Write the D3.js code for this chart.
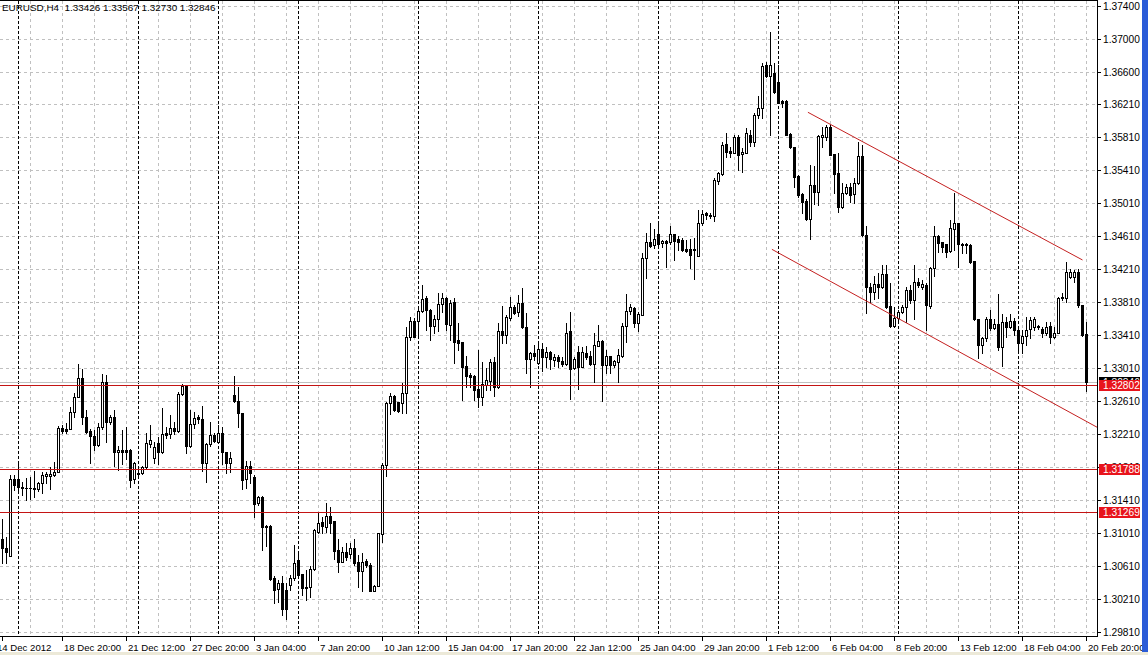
<!DOCTYPE html>
<html>
<head>
<meta charset="utf-8">
<script src="https://cdn.jsdelivr.net/npm/d3@7"></script>
<style>
  html, body { margin: 0; padding: 0; background: #fff; }
  svg { display: block; }
  text { font-family: "Liberation Sans", Arial, sans-serif; }
</style>
</head>
<body>
<svg id="chart" width="1148" height="655"></svg>
<script>
// EURUSD H4, 14 Dec 2012 - 20 Feb 2013 (272 bars)
const opens = [
  1.30937,1.30828,1.30739,1.31663,1.31663,1.31566,1.31554,1.31561,1.31554,1.31542,
  1.31614,1.31703,1.31703,1.31715,1.31748,1.32281,1.32269,1.32269,1.32475,1.32664,
  1.32887,1.32422,1.32248,1.32191,1.32079,1.32293,1.32846,1.32361,1.32422,1.31989,
  1.32017,1.32017,1.32017,1.31663,1.31743,1.31736,1.31809,1.32091,1.31917,1.32099,
  1.31998,1.32220,1.32208,1.32281,1.32252,1.32697,1.32793,1.32067,1.32334,1.32415,
  1.32391,1.31857,1.32091,1.32200,1.32119,1.32228,1.31989,1.31864,1.32684,1.32616,
  1.32463,1.31663,1.31824,1.31695,1.31373,1.31446,1.31098,1.31098,1.30467,1.30334,
  1.30406,1.30317,1.30383,1.30464,1.30685,1.30516,1.30355,1.30355,1.30576,1.31030,
  1.31151,1.31091,1.31219,1.31163,1.30807,1.30666,1.30787,1.30759,1.30828,1.30666,
  1.30557,1.30678,1.30625,1.30314,1.30367,1.31002,1.31836,1.32584,1.32672,1.32603,
  1.32591,1.32705,1.33383,1.33584,1.33584,1.33706,1.33855,1.33714,1.33520,1.33601,
  1.33787,1.33855,1.33532,1.33815,1.33351,1.33330,1.33035,1.32927,1.32914,1.32753,
  1.32664,1.32805,1.32857,1.33088,1.32777,1.33459,1.33411,1.33613,1.33754,1.33694,
  1.33802,1.33512,1.33117,1.33197,1.33072,1.33241,1.33140,1.33209,1.33108,1.33140,
  1.33100,1.33060,1.33463,1.33008,1.33209,1.33027,1.33197,1.33156,1.33060,1.33278,
  1.33339,1.33047,1.33156,1.33047,1.33088,1.33156,1.33520,1.33706,1.33734,1.33561,
  1.33653,1.34340,1.34541,1.34501,1.34630,1.34529,1.34553,1.34541,1.34630,1.34570,
  1.34562,1.34457,1.34457,1.34457,1.34364,1.34767,1.34888,1.34868,1.34848,1.35281,
  1.35361,1.35725,1.35640,1.35620,1.35814,1.35600,1.35620,1.35834,1.35753,1.36076,
  1.36157,1.36682,1.36549,1.36589,1.36479,1.36250,1.36250,1.35846,1.35693,1.35338,
  1.35120,1.35038,1.34812,1.35228,1.35147,1.35806,1.35806,1.35934,1.35604,1.35370,
  1.34965,1.35127,1.35200,1.35119,1.35249,1.35580,1.34622,1.33988,1.33935,1.34028,
  1.33988,1.34149,1.33762,1.33520,1.33613,1.33694,1.33747,1.33956,1.33835,1.34056,
  1.33996,1.34016,1.33762,1.34222,1.34610,1.34541,1.34513,1.34432,1.34691,1.34771,
  1.34517,1.34517,1.34497,1.34307,1.33601,1.33290,1.33371,1.33601,1.33492,1.33544,
  1.33262,1.33573,1.33512,1.33581,1.33472,1.33318,1.33399,1.33480,1.33512,1.33520,
  1.33480,1.33439,1.33520,1.33391,1.33439,1.33855,1.33855,1.34117,1.34117,1.34178,
  1.33775,1.33426
];
const highs = [
  1.31179,1.30969,1.31716,1.31715,1.31864,1.31634,1.31675,1.31691,1.31764,1.31634,
  1.31755,1.31755,1.31816,1.31876,1.32309,1.32321,1.32342,1.32543,1.32712,1.33056,
  1.32996,1.32503,1.32276,1.32260,1.32342,1.32939,1.32927,1.32442,1.32503,1.32067,
  1.32260,1.32301,1.32030,1.31876,1.31776,1.31824,1.32220,1.32321,1.32119,1.32180,
  1.32523,1.32301,1.32442,1.32361,1.32725,1.32818,1.32806,1.32503,1.32483,1.32442,
  1.32552,1.32099,1.32361,1.32220,1.32321,1.32301,1.31997,1.31989,1.32914,1.32785,
  1.32467,1.31888,1.31888,1.31715,1.31462,1.31462,1.31110,1.31110,1.30486,1.30446,
  1.30486,1.30406,1.30504,1.30868,1.30782,1.30516,1.30565,1.30616,1.31058,1.31252,
  1.31211,1.31373,1.31332,1.31163,1.30937,1.30847,1.30888,1.30888,1.30937,1.30746,
  1.30767,1.30694,1.30645,1.30387,1.31018,1.31857,1.32603,1.32705,1.32684,1.32603,
  1.32826,1.33512,1.33633,1.33613,1.33754,1.34016,1.33883,1.33722,1.33653,1.33916,
  1.33923,1.33875,1.33835,1.33855,1.33553,1.33330,1.33156,1.32947,1.32927,1.33229,
  1.33088,1.33007,1.33117,1.33148,1.33553,1.33762,1.33653,1.33875,1.33775,1.33895,
  1.33976,1.33681,1.33209,1.33290,1.33302,1.33310,1.33262,1.33221,1.33180,1.33168,
  1.33148,1.33553,1.33694,1.33148,1.33278,1.33262,1.33278,1.33221,1.33431,1.33532,
  1.33351,1.33229,1.33156,1.33108,1.33241,1.33553,1.33907,1.33787,1.33747,1.33694,
  1.34401,1.34650,1.34771,1.34691,1.34755,1.34562,1.34562,1.34731,1.34630,1.34610,
  1.34582,1.34562,1.34570,1.34582,1.34929,1.34929,1.34900,1.34888,1.35309,1.35390,
  1.35753,1.35854,1.35692,1.35834,1.35834,1.35672,1.35915,1.35895,1.36097,1.36306,
  1.36710,1.36722,1.37085,1.36702,1.36682,1.36258,1.36258,1.35854,1.35693,1.35350,
  1.35128,1.35054,1.35470,1.35458,1.35834,1.35934,1.35955,1.35955,1.35604,1.35612,
  1.35249,1.35241,1.35249,1.35309,1.35753,1.35713,1.34731,1.34043,1.34125,1.34157,
  1.34258,1.34258,1.34036,1.33754,1.33714,1.33775,1.33996,1.34016,1.34258,1.34097,
  1.34077,1.34036,1.34230,1.34731,1.34622,1.34541,1.34513,1.34804,1.35127,1.34771,
  1.34529,1.34529,1.34513,1.34307,1.33601,1.33391,1.33633,1.33714,1.33601,1.33907,
  1.33665,1.33633,1.33665,1.33617,1.33480,1.33472,1.33633,1.33633,1.33633,1.33532,
  1.33512,1.33573,1.33573,1.33512,1.33875,1.33916,1.34299,1.34207,1.34198,1.34207,
  1.33775,1.33567
];
const lows = [
  1.30653,1.30645,1.30739,1.31534,1.31501,1.31473,1.31413,1.31425,1.31453,1.31526,
  1.31501,1.31614,1.31542,1.31700,1.31748,1.32220,1.32220,1.32269,1.32422,1.32664,
  1.32334,1.32228,1.31864,1.32018,1.32067,1.32269,1.32119,1.32334,1.31824,1.31776,
  1.31848,1.31905,1.31566,1.31614,1.31703,1.31727,1.31796,1.32058,1.31864,1.31848,
  1.31985,1.32160,1.32160,1.32212,1.32240,1.32684,1.31985,1.32058,1.32281,1.32349,
  1.31767,1.31634,1.32067,1.32119,1.32107,1.31848,1.31739,1.31755,1.32596,1.32301,
  1.31542,1.31554,1.31614,1.31211,1.31352,1.30807,1.30856,1.30446,1.30168,1.30180,
  1.30019,1.29967,1.30325,1.30446,1.30464,1.30262,1.30201,1.30242,1.30568,1.31018,
  1.31010,1.31030,1.31018,1.30695,1.30544,1.30666,1.30685,1.30705,1.30625,1.30354,
  1.30306,1.30605,1.30306,1.30306,1.30367,1.30908,1.31703,1.32455,1.32495,1.32483,
  1.32463,1.32463,1.33351,1.33383,1.33411,1.33694,1.33476,1.33351,1.33435,1.33464,
  1.33694,1.33476,1.33355,1.33077,1.33229,1.32624,1.32785,1.32785,1.32624,1.32543,
  1.32564,1.32745,1.32745,1.32672,1.32765,1.33318,1.33318,1.33593,1.33665,1.33641,
  1.33492,1.32947,1.32785,1.33108,1.33063,1.32980,1.33027,1.32996,1.33035,1.33027,
  1.33035,1.33047,1.32632,1.32996,1.32753,1.33020,1.33117,1.33047,1.32836,1.33278,
  1.32616,1.32947,1.32947,1.33027,1.32836,1.33148,1.33330,1.33665,1.33512,1.33464,
  1.33653,1.34098,1.34481,1.34465,1.34465,1.34477,1.34235,1.34517,1.34320,1.34440,
  1.34432,1.34416,1.34227,1.34086,1.34364,1.34747,1.34820,1.34828,1.34788,1.35239,
  1.35349,1.35571,1.35571,1.35612,1.35410,1.35390,1.35612,1.35701,1.35701,1.36036,
  1.36036,1.36540,1.35834,1.36346,1.36218,1.36170,1.35834,1.35673,1.35209,1.35088,
  1.34893,1.34804,1.34570,1.35000,1.34987,1.35693,1.35773,1.35592,1.35127,1.34905,
  1.34945,1.35119,1.35026,1.35013,1.35241,1.34610,1.33681,1.33814,1.33843,1.33855,
  1.33976,1.33734,1.33512,1.33512,1.33593,1.33674,1.33573,1.33795,1.33601,1.33996,
  1.33964,1.33472,1.33734,1.34125,1.34416,1.34420,1.34352,1.34420,1.34440,1.34239,
  1.34400,1.34400,1.34283,1.33593,1.33128,1.33189,1.33343,1.33472,1.33480,1.33229,
  1.33035,1.33391,1.33492,1.33411,1.33209,1.33197,1.33290,1.33371,1.33472,1.33480,
  1.33391,1.33411,1.33310,1.33371,1.33431,1.33835,1.33815,1.34097,1.34056,1.33754,
  1.33399,1.32730
];
const closes = [
  1.30828,1.30787,1.31663,1.31594,1.31566,1.31554,1.31561,1.31554,1.31542,1.31622,
  1.31715,1.31727,1.31727,1.31755,1.32281,1.32252,1.32248,1.32475,1.32664,1.32887,
  1.32422,1.32240,1.32191,1.32079,1.32293,1.32846,1.32361,1.32422,1.31989,1.32017,
  1.31997,1.31997,1.31655,1.31857,1.31724,1.31816,1.32099,1.32139,1.32051,1.31998,
  1.32212,1.32200,1.32281,1.32252,1.32697,1.32793,1.32067,1.32334,1.32403,1.32391,
  1.31857,1.32091,1.32200,1.32131,1.32228,1.31989,1.31864,1.31917,1.32616,1.32463,
  1.31655,1.31824,1.31743,1.31365,1.31446,1.31082,1.31082,1.30455,1.30325,1.30406,
  1.30088,1.30088,1.30464,1.30653,1.30504,1.30343,1.30343,1.30576,1.31050,1.31139,
  1.31099,1.31219,1.31139,1.30799,1.30666,1.30787,1.30726,1.30828,1.30645,1.30557,
  1.30666,1.30625,1.30314,1.30375,1.31010,1.31836,1.32591,1.32672,1.32503,1.32495,
  1.32705,1.33383,1.33584,1.33391,1.33706,1.33843,1.33714,1.33520,1.33601,1.33787,
  1.33855,1.33544,1.33802,1.33330,1.33318,1.33027,1.32914,1.32906,1.32745,1.32664,
  1.32817,1.32866,1.33088,1.32785,1.33459,1.33411,1.33625,1.33754,1.33681,1.33802,
  1.33504,1.33117,1.33197,1.33156,1.33241,1.33140,1.33209,1.33117,1.33140,1.33100,
  1.33060,1.33431,1.32996,1.33117,1.33020,1.33209,1.33148,1.33060,1.33290,1.33339,
  1.33047,1.33156,1.33047,1.33096,1.33168,1.33520,1.33706,1.33747,1.33553,1.33665,
  1.34340,1.34541,1.34489,1.34570,1.34517,1.34553,1.34529,1.34630,1.34553,1.34541,
  1.34440,1.34428,1.34376,1.34445,1.34767,1.34876,1.34860,1.34848,1.35289,1.35370,
  1.35713,1.35632,1.35620,1.35814,1.35592,1.35632,1.35862,1.35753,1.36076,1.36157,
  1.36670,1.36549,1.36682,1.36358,1.36225,1.36225,1.35834,1.35685,1.35330,1.35108,
  1.35026,1.34812,1.35228,1.35147,1.35822,1.35834,1.35934,1.35592,1.35361,1.34965,
  1.35127,1.35200,1.35107,1.35249,1.35580,1.34622,1.33988,1.33935,1.34028,1.33988,
  1.34149,1.33754,1.33520,1.33613,1.33694,1.33754,1.33956,1.33835,1.34056,1.34016,
  1.34028,1.33775,1.34222,1.34610,1.34529,1.34481,1.34420,1.34703,1.34771,1.34517,
  1.34497,1.34497,1.34295,1.33601,1.33290,1.33371,1.33601,1.33492,1.33544,1.33262,
  1.33573,1.33512,1.33585,1.33472,1.33318,1.33399,1.33472,1.33593,1.33601,1.33504,
  1.33439,1.33512,1.33391,1.33439,1.33855,1.33875,1.34178,1.34178,1.34178,1.33775,
  1.33411,1.32846
];

// price axis ticks (as MT4 prints them)
const priceTicks = [1.37400,1.37000,1.36600,1.36210,1.35810,1.35410,1.35010,1.34610,1.34210,1.33810,
                    1.33410,1.33010,1.32610,1.32210,1.31810,1.31410,1.31010,1.30610,1.30210,1.29810];
// time axis labels: bar index + text
const labelBars = [0,15,31,47,63,79,95,111,127,143,159,175,191,207,223,239,255,271];
const labelTexts = ["14 Dec 2012","18 Dec 20:00","21 Dec 12:00","27 Dec 20:00","3 Jan 04:00","7 Jan 20:00",
                    "10 Jan 12:00","15 Jan 04:00","17 Jan 20:00","22 Jan 12:00","25 Jan 04:00","29 Jan 20:00",
                    "1 Feb 12:00","6 Feb 04:00","8 Feb 20:00","13 Feb 12:00","18 Feb 04:00","20 Feb 20:00"];
// week separators (Monday 00:00 bars)
const separatorBars = [4,34,54,74,104,134,164,194,224,254];
// horizontal levels and bid
const levels = [1.32802, 1.31788, 1.31269];
const bid = 1.32846;
// channel lines: [bar, price]
const channelUpper = [[201.35, 1.36109], [270, 1.34320]];
const channelLower = [[192.35, 1.34449], [273.75, 1.32291]];
const title = "EURUSD,H4  1.33426 1.33567 1.32730 1.32846";

const plotRight = 1097, plotBottom = 636;
const svg = d3.select('#chart');

const x = d3.scaleLinear().domain([0, 271]).range([2, 1086]);
const y = d3.scaleLinear().domain([1.29810, 1.37400]).range([632.3, 5.7]);
const py = v => Math.round(y(v));

svg.append('rect').attr('width', 1148).attr('height', 655).attr('fill', '#fff');

// grid
const grid = svg.append('g').attr('shape-rendering', 'crispEdges');
grid.selectAll('line.h').data(priceTicks).enter().append('line')
  .attr('x1', 0).attr('x2', plotRight)
  .attr('y1', d => py(d) + 0.5).attr('y2', d => py(d) + 0.5)
  .attr('stroke', '#c0c0c0').attr('stroke-dasharray', '3,3');
grid.selectAll('line.v').data(d3.range(7, 272, 8)).enter().append('line')
  .attr('x1', d => x(d) + 0.5).attr('x2', d => x(d) + 0.5)
  .attr('y1', 1).attr('y2', plotBottom)
  .attr('stroke', '#c0c0c0').attr('stroke-dasharray', '3,3');
grid.selectAll('line.sep').data(separatorBars).enter().append('line')
  .attr('x1', d => x(d) + 0.5).attr('x2', d => x(d) + 0.5)
  .attr('y1', 1).attr('y2', plotBottom)
  .attr('stroke', '#000').attr('stroke-dasharray', '3,2');

// bid line
svg.append('line').attr('shape-rendering', 'crispEdges')
  .attr('x1', 0).attr('x2', plotRight)
  .attr('y1', py(bid) + 0.5).attr('y2', py(bid) + 0.5)
  .attr('stroke', '#c0c0c0');

// candles
const bars = opens.map((o, i) => ({ i, o, h: highs[i], l: lows[i], c: closes[i] }));
const cg = svg.append('g').attr('shape-rendering', 'crispEdges');
cg.selectAll('rect.wick').data(bars).enter().append('rect')
  .attr('x', d => x(d.i)).attr('width', 1)
  .attr('y', d => py(Math.max(d.h, d.o, d.c)))
  .attr('height', d => py(Math.min(d.l, d.o, d.c)) - py(Math.max(d.h, d.o, d.c)) + 1)
  .attr('fill', '#000');
cg.selectAll('rect.body').data(bars).enter().append('rect')
  .each(function (d) {
    const top = py(Math.max(d.o, d.c)), bot = py(Math.min(d.o, d.c));
    const r = d3.select(this);
    if (d.c < d.o || bot - top < 2) {
      r.attr('x', x(d.i) - 1).attr('width', 3).attr('y', top).attr('height', bot - top + 1).attr('fill', '#000');
    } else {
      r.attr('x', x(d.i) - 0.5).attr('width', 2).attr('y', top + 0.5).attr('height', bot - top)
        .attr('fill', '#fff').attr('stroke', '#000').attr('stroke-width', 1);
    }
  });

// level lines
svg.append('g').attr('shape-rendering', 'crispEdges')
  .selectAll('line').data(levels).enter().append('line')
  .attr('x1', 0).attr('x2', plotRight)
  .attr('y1', d => py(d) + 0.5).attr('y2', d => py(d) + 0.5)
  .attr('stroke', '#c41414');

// channel
const chLine = d3.line().x(d => x(d[0]) + 0.5).y(d => y(d[1]));
[channelUpper, channelLower].forEach(pts => {
  svg.append('path').attr('d', chLine(pts)).attr('fill', 'none')
    .attr('stroke', '#c42020').attr('stroke-width', 1);
});

// frame
const frame = svg.append('g').attr('shape-rendering', 'crispEdges').attr('stroke', '#000');
frame.append('line').attr('x1', 0).attr('x2', plotRight + 1).attr('y1', 0.5).attr('y2', 0.5);
frame.append('line').attr('x1', 0).attr('x2', plotRight + 1).attr('y1', plotBottom + 0.5).attr('y2', plotBottom + 0.5);
frame.append('line').attr('x1', plotRight + 0.5).attr('x2', plotRight + 0.5).attr('y1', 0).attr('y2', plotBottom + 1);

// price axis
const pa = svg.append('g');
pa.selectAll('line').data(priceTicks).enter().append('line')
  .attr('shape-rendering', 'crispEdges')
  .attr('x1', plotRight).attr('x2', plotRight + 4)
  .attr('y1', d => py(d) + 0.5).attr('y2', d => py(d) + 0.5)
  .attr('stroke', '#000');
pa.selectAll('text').data(priceTicks).enter().append('text')
  .attr('x', 1103).attr('y', d => py(d) + 4)
  .style('font-size', '10.2px').attr('fill', '#000')
  .text(d => d.toFixed(5));

// price tags: bid (black) under the red level tags
function tag(v, color) {
  const g = svg.append('g');
  g.append('rect').attr('shape-rendering', 'crispEdges')
    .attr('x', 1099).attr('y', py(v) - 5).attr('width', 41).attr('height', 11).attr('fill', color);
  g.append('text').attr('x', 1103).attr('y', py(v) + 4)
    .style('font-size', '10.2px').attr('fill', '#fff').text(v.toFixed(5));
}
tag(bid, '#000');
levels.forEach(v => tag(v, '#e8141c'));

// time axis
const ta = svg.append('g');
ta.selectAll('line').data(labelBars).enter().append('line')
  .attr('shape-rendering', 'crispEdges')
  .attr('x1', d => x(d) + 0.5).attr('x2', d => x(d) + 0.5)
  .attr('y1', plotBottom).attr('y2', plotBottom + 5)
  .attr('stroke', '#000');
ta.selectAll('text').data(labelBars).enter().append('text')
  .attr('x', (d, k) => k === 0 ? -3 : x(d) + 2).attr('y', 651)
  .style('font-size', '9.6px').attr('fill', '#000')
  .text((d, k) => labelTexts[k]);

// window bits
svg.append('rect').attr('x', 0).attr('y', 652).attr('width', 1148).attr('height', 3).attr('fill', '#ece9d8');
svg.append('rect').attr('x', 1142).attr('y', 0).attr('width', 6).attr('height', 652).attr('fill', '#2a5bd7');

// title
svg.append('text').attr('x', 2).attr('y', 11)
  .style('font-size', '9.9px').attr('fill', '#000').attr('xml:space', 'preserve')
  .style('white-space', 'pre')
  .text(title);
</script>
</body>
</html>
